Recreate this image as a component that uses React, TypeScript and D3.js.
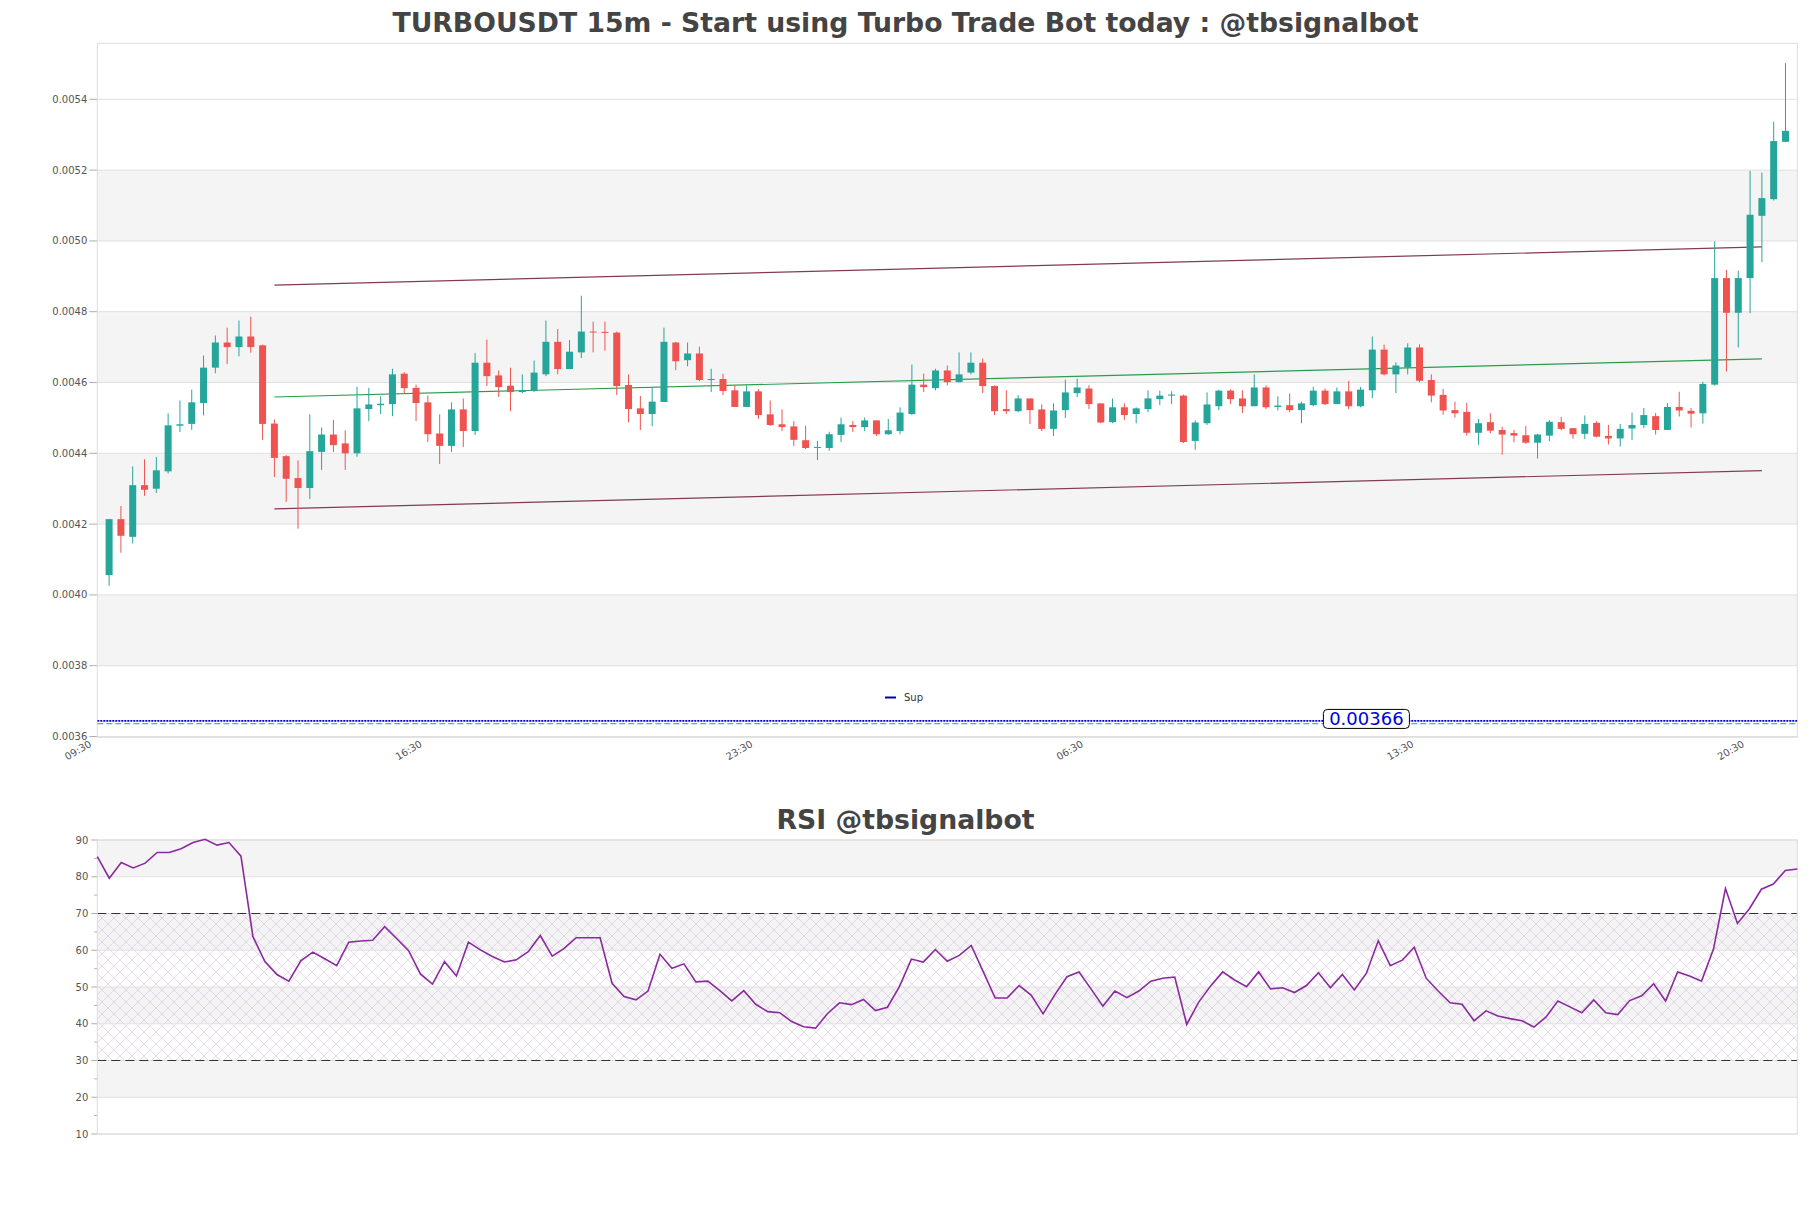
import React from "react";
import * as d3 from "d3";

const TITLE = "TURBOUSDT 15m - Start using Turbo Trade Bot today : @tbsignalbot";
const RSI_TITLE = "RSI @tbsignalbot";

const opens = [
  0.004056, 0.004214, 0.004164, 0.004310, 0.004300, 0.004349, 0.004478, 0.004483, 0.004542, 0.004642,
  0.004713, 0.004700, 0.004730, 0.004705, 0.004484, 0.004392, 0.004330, 0.004302, 0.004404, 0.004453,
  0.004428, 0.004400, 0.004525, 0.004536, 0.004539, 0.004625, 0.004585, 0.004544, 0.004456, 0.004421,
  0.004524, 0.004463, 0.004656, 0.004620, 0.004591, 0.004573, 0.004577, 0.004623, 0.004715, 0.004638,
  0.004685, 0.004744, 0.004743, 0.004741, 0.004593, 0.004527, 0.004511, 0.004545, 0.004713, 0.004663,
  0.004682, 0.004607, 0.004610, 0.004578, 0.004531, 0.004575, 0.004510, 0.004482, 0.004476, 0.004437,
  0.004416, 0.004415, 0.004452, 0.004480, 0.004474, 0.004493, 0.004454, 0.004463, 0.004511, 0.004594,
  0.004584, 0.004634, 0.004601, 0.004628, 0.004656, 0.004590, 0.004525, 0.004519, 0.004555, 0.004524,
  0.004469, 0.004522, 0.004570, 0.004583, 0.004541, 0.004488, 0.004530, 0.004511, 0.004525, 0.004553,
  0.004563, 0.004563, 0.004435, 0.004485, 0.004533, 0.004577, 0.004555, 0.004533, 0.004586, 0.004531,
  0.004536, 0.004522, 0.004536, 0.004577, 0.004539, 0.004575, 0.004533, 0.004578, 0.004693, 0.004623,
  0.004643, 0.004699, 0.004607, 0.004565, 0.004522, 0.004517, 0.004458, 0.004488, 0.004466, 0.004457,
  0.004451, 0.004430, 0.004450, 0.004488, 0.004471, 0.004455, 0.004486, 0.004449, 0.004442, 0.004470,
  0.004480, 0.004505, 0.004466, 0.004531, 0.004520, 0.004513, 0.004594, 0.004895, 0.004797, 0.004895,
  0.005071, 0.005118, 0.005280,
];
const highs = [
  0.004214, 0.004251, 0.004363, 0.004383, 0.004390, 0.004513, 0.004549, 0.004580, 0.004676, 0.004733,
  0.004755, 0.004775, 0.004786, 0.004707, 0.004496, 0.004395, 0.004380, 0.004510, 0.004473, 0.004494,
  0.004465, 0.004588, 0.004585, 0.004561, 0.004639, 0.004629, 0.004594, 0.004563, 0.004510, 0.004544,
  0.004555, 0.004683, 0.004721, 0.004634, 0.004642, 0.004623, 0.004662, 0.004775, 0.004751, 0.004720,
  0.004845, 0.004772, 0.004772, 0.004744, 0.004623, 0.004562, 0.004587, 0.004755, 0.004715, 0.004713,
  0.004701, 0.004639, 0.004625, 0.004592, 0.004592, 0.004581, 0.004549, 0.004524, 0.004491, 0.004478,
  0.004435, 0.004461, 0.004501, 0.004491, 0.004501, 0.004493, 0.004497, 0.004530, 0.004651, 0.004625,
  0.004639, 0.004648, 0.004685, 0.004685, 0.004668, 0.004592, 0.004578, 0.004564, 0.004555, 0.004538,
  0.004541, 0.004608, 0.004611, 0.004592, 0.004541, 0.004555, 0.004541, 0.004530, 0.004578, 0.004577,
  0.004575, 0.004566, 0.004493, 0.004572, 0.004580, 0.004581, 0.004578, 0.004623, 0.004592, 0.004561,
  0.004569, 0.004546, 0.004588, 0.004583, 0.004586, 0.004605, 0.004587, 0.004730, 0.004707, 0.004657,
  0.004711, 0.004708, 0.004623, 0.004582, 0.004546, 0.004543, 0.004497, 0.004513, 0.004475, 0.004466,
  0.004477, 0.004455, 0.004494, 0.004503, 0.004471, 0.004507, 0.004491, 0.004480, 0.004483, 0.004515,
  0.004528, 0.004514, 0.004542, 0.004574, 0.004528, 0.004602, 0.004999, 0.004918, 0.004916, 0.005198,
  0.005193, 0.005337, 0.005502,
];
const lows = [
  0.004026, 0.004119, 0.004145, 0.004280, 0.004288, 0.004343, 0.004460, 0.004466, 0.004507, 0.004626,
  0.004652, 0.004674, 0.004684, 0.004438, 0.004333, 0.004263, 0.004187, 0.004271, 0.004353, 0.004404,
  0.004353, 0.004390, 0.004491, 0.004511, 0.004505, 0.004568, 0.004491, 0.004432, 0.004370, 0.004404,
  0.004418, 0.004452, 0.004590, 0.004559, 0.004519, 0.004570, 0.004573, 0.004618, 0.004623, 0.004638,
  0.004669, 0.004685, 0.004690, 0.004565, 0.004488, 0.004466, 0.004477, 0.004545, 0.004635, 0.004646,
  0.004604, 0.004573, 0.004564, 0.004531, 0.004531, 0.004497, 0.004477, 0.004463, 0.004421, 0.004412,
  0.004381, 0.004407, 0.004432, 0.004460, 0.004463, 0.004449, 0.004452, 0.004454, 0.004508, 0.004573,
  0.004578, 0.004592, 0.004601, 0.004623, 0.004570, 0.004508, 0.004511, 0.004516, 0.004483, 0.004463,
  0.004449, 0.004500, 0.004559, 0.004525, 0.004485, 0.004485, 0.004494, 0.004485, 0.004516, 0.004536,
  0.004539, 0.004429, 0.004410, 0.004480, 0.004522, 0.004539, 0.004514, 0.004533, 0.004525, 0.004521,
  0.004516, 0.004485, 0.004533, 0.004536, 0.004539, 0.004525, 0.004530, 0.004556, 0.004620, 0.004570,
  0.004623, 0.004601, 0.004544, 0.004509, 0.004501, 0.004450, 0.004424, 0.004457, 0.004396, 0.004431,
  0.004427, 0.004385, 0.004434, 0.004465, 0.004441, 0.004440, 0.004445, 0.004425, 0.004419, 0.004438,
  0.004471, 0.004453, 0.004466, 0.004504, 0.004473, 0.004484, 0.004591, 0.004631, 0.004699, 0.004796,
  0.004940, 0.005114, 0.005279,
];
const closes = [
  0.004214, 0.004167, 0.004310, 0.004297, 0.004352, 0.004479, 0.004482, 0.004544, 0.004642, 0.004713,
  0.004700, 0.004730, 0.004700, 0.004483, 0.004387, 0.004328, 0.004302, 0.004406, 0.004453, 0.004423,
  0.004400, 0.004527, 0.004538, 0.004540, 0.004623, 0.004584, 0.004542, 0.004454, 0.004421, 0.004524,
  0.004463, 0.004656, 0.004618, 0.004587, 0.004573, 0.004579, 0.004628, 0.004715, 0.004638, 0.004687,
  0.004744, 0.004742, 0.004742, 0.004590, 0.004525, 0.004511, 0.004546, 0.004715, 0.004660, 0.004682,
  0.004607, 0.004610, 0.004576, 0.004531, 0.004575, 0.004508, 0.004480, 0.004474, 0.004438, 0.004415,
  0.004418, 0.004454, 0.004482, 0.004474, 0.004493, 0.004454, 0.004465, 0.004515, 0.004594, 0.004587,
  0.004634, 0.004601, 0.004623, 0.004656, 0.004590, 0.004519, 0.004519, 0.004555, 0.004522, 0.004469,
  0.004521, 0.004572, 0.004586, 0.004539, 0.004487, 0.004530, 0.004508, 0.004527, 0.004555, 0.004563,
  0.004566, 0.004432, 0.004487, 0.004538, 0.004577, 0.004553, 0.004533, 0.004586, 0.004530, 0.004535,
  0.004522, 0.004541, 0.004577, 0.004539, 0.004575, 0.004533, 0.004580, 0.004693, 0.004623, 0.004648,
  0.004699, 0.004605, 0.004563, 0.004521, 0.004513, 0.004458, 0.004485, 0.004464, 0.004453, 0.004450,
  0.004430, 0.004453, 0.004489, 0.004469, 0.004454, 0.004483, 0.004447, 0.004442, 0.004469, 0.004480,
  0.004508, 0.004466, 0.004531, 0.004521, 0.004512, 0.004596, 0.004895, 0.004797, 0.004895, 0.005074,
  0.005121, 0.005282, 0.005311,
];
const rsiValues = [
  85.5, 79.6, 83.9, 82.4, 83.7, 86.6, 86.6, 87.6, 89.3, 90.2,
  88.6, 89.3, 85.6, 63.7, 56.9, 53.4, 51.6, 57.1, 59.5, 57.7,
  55.8, 62.2, 62.5, 62.7, 66.4, 63.2, 59.9, 53.5, 50.8, 56.9,
  53.0, 62.2, 60.1, 58.3, 56.8, 57.4, 59.6, 64.0, 58.4, 60.5,
  63.4, 63.4, 63.4, 51.0, 47.4, 46.5, 48.9, 58.9, 55.1, 56.3,
  51.4, 51.6, 49.0, 46.2, 49.0, 45.3, 43.3, 43.0, 40.6, 39.2,
  38.8, 42.8, 45.7, 45.2, 46.6, 43.6, 44.5, 50.1, 57.6, 56.8,
  60.2, 57.0, 58.6, 61.3, 54.2, 47.0, 47.0, 50.4, 47.8, 42.7,
  48.0, 52.8, 54.1, 49.5, 44.8, 48.9, 47.1, 48.9, 51.6, 52.4,
  52.7, 39.8, 45.9, 50.3, 54.1, 51.9, 50.1, 54.1, 49.5, 49.8,
  48.5, 50.4, 53.9, 49.8, 53.4, 49.2, 53.7, 62.6, 55.8, 57.3,
  60.8, 52.4, 48.9, 45.7, 45.3, 40.8, 43.5, 42.1, 41.4, 40.8,
  39.1, 41.8, 46.2, 44.6, 43.0, 46.5, 43.0, 42.5, 46.3, 47.6,
  50.9, 46.2, 54.1, 53.0, 51.6, 60.3, 76.8, 67.3, 71.3, 76.6,
  78.0, 81.7, 82.1,
];

const xTickLabels = ["09:30", "16:30", "23:30", "06:30", "13:30", "20:30"];
const priceTicks = [0.0036, 0.0038, 0.004, 0.0042, 0.0044, 0.0046, 0.0048, 0.005, 0.0052, 0.0054];
const rsiTicks = [10, 20, 30, 40, 50, 60, 70, 80, 90];
const rsiMinorTicks = [15, 25, 35, 45, 55, 65, 75, 85];
const rsiLevels = [70, 30];
const channelIdx = [14, 140];
const channelUpper = [0.004875, 0.004983];
const channelMid = [0.004559, 0.004667];
const channelLower = [0.004243, 0.004351];
const supLevel = 0.003644;
const supLevel2 = 0.003636;
const supLabel = "0.00366";
const supLabelIdx = 106.5;

// layout
const W = 1811;
const H = 1208;
const PL = 97.3;
const PR = 1797.3;
const MT = 43.3;
const MB = 737.3;
const RT = 840;
const RB = 1134;

const GREEN = "#26a69a";
const RED = "#ef5350";
const BAND = "#f4f4f4";
const GRID = "#e0e0e0";
const FONT = "DejaVu Sans, sans-serif";

export default function App() {
  const start = new Date(2024, 0, 1, 9, 45).getTime();
  const step = 15 * 60 * 1000;
  const n = closes.length;
  const times = closes.map((_, i) => new Date(start + i * step));
  const x = d3
    .scaleTime()
    .domain([new Date(start - step), new Date(start + n * step)])
    .range([PL, PR]);
  const y = d3.scaleLinear().domain([0.0035977, 0.0055583]).range([MB, MT]);
  const xr = d3.scaleLinear().domain([0, n - 1]).range([PL, PR]);
  const yr = d3.scaleLinear().domain([10, 90]).range([RB, RT]);
  const tickDates = xTickLabels.map((_, k) => new Date(start - step + k * 7 * 3600 * 1000));
  const bw = 7;

  const rsiLine = d3
    .line<number>()
    .x((_, i) => xr(i))
    .y((d) => yr(d))(rsiValues) as string;

  const chX = (i: number) => x(times[i]);
  const chan = (vals: number[]) =>
    d3
      .line<number>()
      .x((_, k) => chX(channelIdx[k]))
      .y((d) => y(d))(vals) as string;

  const mainBands = priceTicks.slice(0, -1).map((t, k) => ({ lo: t, hi: priceTicks[k + 1], gray: k % 2 === 1 }));
  const rsiBands = rsiTicks.slice(0, -1).map((t, k) => ({ lo: t, hi: rsiTicks[k + 1], gray: k % 2 === 1 }));

  const labelX = x(new Date(start + supLabelIdx * step));

  return (
    <svg
      width={W}
      height={H}
      style={{ position: "absolute", left: 0, top: 0, background: "#fff" }}
      fontFamily={FONT}
    >
      <defs>
        <pattern id="hatch" width="12" height="12" patternUnits="userSpaceOnUse">
          <path d="M0,0 L12,12 M12,0 L0,12" stroke="#cdb6d8" strokeWidth="0.6" fill="none" />
        </pattern>
        <clipPath id="mainClip">
          <rect x={PL} y={MT} width={PR - PL} height={MB - MT} />
        </clipPath>
      </defs>
      <rect x={0} y={0} width={W} height={H} fill="#fff" />

      <text x={W / 2} y={32} textAnchor="middle" fontSize={26.7} fontWeight="bold" fill="#444">
        {TITLE}
      </text>

      {/* main panel */}
      {mainBands.map((b, k) =>
        b.gray ? (
          <rect key={k} x={PL} y={y(b.hi)} width={PR - PL} height={y(b.lo) - y(b.hi)} fill={BAND} />
        ) : null
      )}
      {priceTicks.map((t) => (
        <g key={t}>
          <line x1={PL} x2={PR} y1={y(t)} y2={y(t)} stroke={GRID} strokeWidth={1} />
          <line x1={PL - 8} x2={PL} y1={y(t)} y2={y(t)} stroke="#999" strokeWidth={0.8} />
          <text x={PL - 10} y={y(t) + 3.5} textAnchor="end" fontSize={10} fill="#555">
            {t.toFixed(4)}
          </text>
        </g>
      ))}
      <rect x={PL} y={MT} width={PR - PL} height={MB - MT} fill="none" stroke="#dcdcdc" strokeWidth={1} />

      <g clipPath="url(#mainClip)">
        <line x1={PL} x2={PR} y1={y(supLevel)} y2={y(supLevel)} stroke="#0000cd" strokeWidth={1.8} strokeDasharray="2,1" />
        <line x1={PL} x2={PR} y1={y(supLevel2)} y2={y(supLevel2)} stroke="#1e90ff" strokeWidth={1} strokeDasharray="6,3" />
      </g>

      <path d={chan(channelUpper)} stroke="#843a50" strokeWidth={1.2} fill="none" />
      <path d={chan(channelLower)} stroke="#843a50" strokeWidth={1.2} fill="none" />
      <path d={chan(channelMid)} stroke="#2a9d4c" strokeWidth={1.2} fill="none" />

      {closes.map((c, i) => {
        const o = opens[i];
        const up = c >= o;
        const col = up ? GREEN : RED;
        const cx = x(times[i]);
        const top = y(Math.max(o, c));
        const bot = y(Math.min(o, c));
        return (
          <g key={i}>
            <line x1={cx} x2={cx} y1={y(highs[i])} y2={y(lows[i])} stroke={col} strokeWidth={1} />
            <rect x={cx - bw / 2} y={top} width={bw} height={Math.max(bot - top, 1)} fill={col} />
          </g>
        );
      })}

      {/* sup label */}
      <rect x={labelX - 43} y={y(supLevel) - 11.5} width={86} height={19} rx={4} fill="#fff" stroke="#000" strokeWidth={1} />
      <text x={labelX} y={y(supLevel) + 4.5} textAnchor="middle" fontSize={18} fill="#0000dd">
        {supLabel}
      </text>

      {/* legend */}
      <line x1={885} x2={896} y1={697.5} y2={697.5} stroke="#0000aa" strokeWidth={2} />
      <text x={904} y={701} fontSize={10} fill="#333">
        Sup
      </text>

      {tickDates.map((d, k) => (
        <text
          key={k}
          transform={`translate(${x(d) - 5},${746}) rotate(-30)`}
          textAnchor="end"
          fontSize={10}
          fill="#555"
        >
          {xTickLabels[k]}
        </text>
      ))}

      {/* RSI panel */}
      <text x={W / 2} y={829} textAnchor="middle" fontSize={26.7} fontWeight="bold" fill="#444">
        {RSI_TITLE}
      </text>
      {rsiBands.map((b, k) =>
        b.gray ? (
          <rect key={k} x={PL} y={yr(b.hi)} width={PR - PL} height={yr(b.lo) - yr(b.hi)} fill={BAND} />
        ) : null
      )}
      <rect x={PL} y={yr(70)} width={PR - PL} height={yr(30) - yr(70)} fill="url(#hatch)" opacity={0.8} />
      {rsiTicks.map((t) => (
        <g key={t}>
          <line x1={PL} x2={PR} y1={yr(t)} y2={yr(t)} stroke={GRID} strokeWidth={1} />
          <line x1={PL - 6} x2={PL} y1={yr(t)} y2={yr(t)} stroke="#999" strokeWidth={0.8} />
          <text x={PL - 9} y={yr(t) + 3.5} textAnchor="end" fontSize={10} fill="#555">
            {t}
          </text>
        </g>
      ))}
      {rsiMinorTicks.map((t) => (
        <line key={t} x1={PL - 3} x2={PL} y1={yr(t)} y2={yr(t)} stroke="#999" strokeWidth={0.8} />
      ))}
      {rsiLevels.map((l) => (
        <line key={l} x1={PL} x2={PR} y1={yr(l)} y2={yr(l)} stroke="#333" strokeWidth={1.2} strokeDasharray="9,5" />
      ))}
      <rect x={PL} y={RT} width={PR - PL} height={RB - RT} fill="none" stroke="#dcdcdc" strokeWidth={1} />
      <path d={rsiLine} stroke="#8a2a9c" strokeWidth={1.6} fill="none" />
    </svg>
  );
}
